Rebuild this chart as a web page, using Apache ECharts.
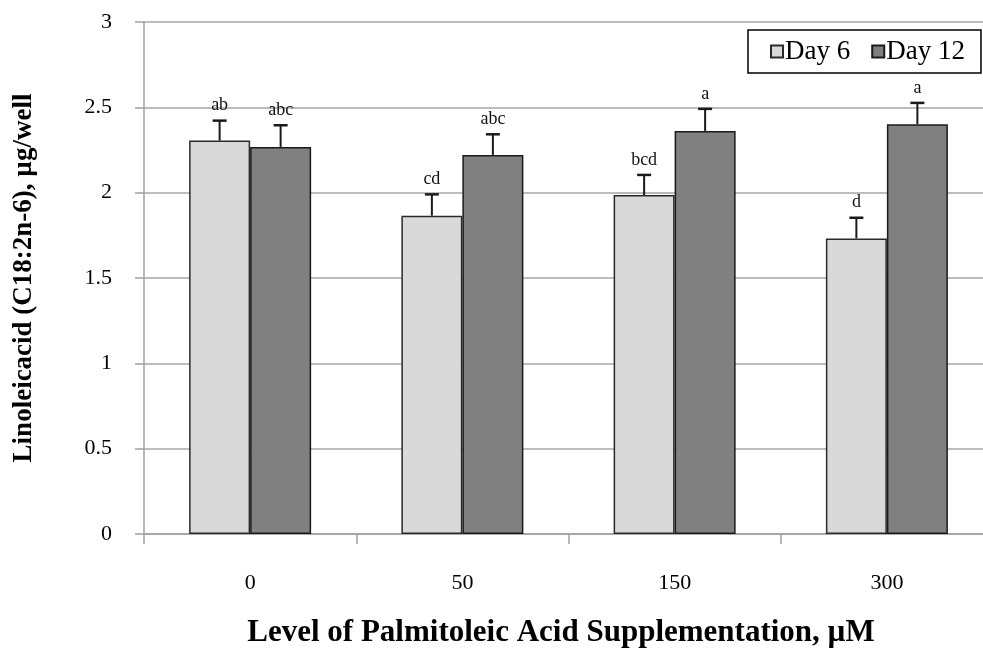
<!DOCTYPE html>
<html>
<head>
<meta charset="utf-8">
<script src="https://cdn.jsdelivr.net/npm/echarts@6/dist/echarts.min.js"></script>
<style>
  html, body { margin: 0; padding: 0; background: #fff; }
  #chart { width: 983px; height: 670px; }
</style>
</head>
<body>
<div id="chart"></div>
<script>
// Palmitoleic acid levels (µM)
const categories = ['0', '50', '150', '300'];
// Linoleic acid, µg/well (means)
const day6 = [2.305, 1.865, 1.986, 1.732];
const day12 = [2.268, 2.221, 2.362, 2.401];
// Standard errors (drawn upward only)
const day6Err = [0.117, 0.125, 0.118, 0.121];
const day12Err = [0.127, 0.121, 0.129, 0.125];
// Significance letters
const day6Letters = ['ab', 'cd', 'bcd', 'd'];
const day12Letters = ['abc', 'abc', 'a', 'a'];
const yTicks = [0, 0.5, 1, 1.5, 2, 2.5, 3];

const SERIF = '"Liberation Serif", "Times New Roman", serif';
const BAR_W = 61;

function errorSeries(name, means, errs, letters, side) {
  return {
    type: 'custom',
    name: name + ' err',
    z: 5,
    silent: true,
    data: means.map((m, i) => [i, m, errs[i]]),
    renderItem: function (params, api) {
      const idx = api.value(0);
      const mean = api.value(1);
      const err = api.value(2);
      const base = api.coord([idx, mean]);
      const top = api.coord([idx, mean + err]);
      const x = base[0] + side * BAR_W / 2;
      const cap = 7;
      return {
        type: 'group',
        children: [
          { type: 'line', shape: { x1: x, y1: base[1], x2: x, y2: top[1] },
            style: { stroke: '#1a1a1a', lineWidth: 2 } },
          { type: 'line', shape: { x1: x - cap, y1: top[1], x2: x + cap, y2: top[1] },
            style: { stroke: '#1a1a1a', lineWidth: 2.5 } },
          { type: 'text', x: x, y: top[1] - 6,
            style: { text: letters[idx], textAlign: 'center', textVerticalAlign: 'bottom',
                     font: '18px ' + SERIF, fill: '#111' } }
        ]
      };
    }
  };
}

const chart = echarts.init(document.getElementById('chart'), null, { renderer: 'canvas' });
chart.setOption({
  animation: false,
  backgroundColor: '#fff',
  grid: {
    left: 144, width: 849, top: 22, bottom: 136,
    containLabel: false, outerBoundsMode: 'none'
  },
  legend: {
    data: ['Day 6', 'Day 12'],
    left: 748, top: 30,
    orient: 'horizontal',
    itemWidth: 12, itemHeight: 12, itemGap: 21,
    padding: [8, 16, 8, 22],
    borderColor: '#000', borderWidth: 1.5,
    backgroundColor: '#fff',
    icon: 'rect',
    textStyle: { fontFamily: SERIF, fontSize: 27, color: '#000', padding: [0, 0, 0, -3] }
  },
  xAxis: {
    type: 'category',
    data: categories,
    axisLine: { lineStyle: { color: '#a0a0a0', width: 1.5 } },
    axisTick: { show: true, length: 10, alignWithLabel: false, lineStyle: { color: '#a0a0a0', width: 1.5 } },
    axisLabel: { fontFamily: SERIF, fontSize: 22, color: '#000', margin: 38 }
  },
  yAxis: {
    type: 'value',
    min: 0, max: 3, interval: 0.5,
    name: 'Linoleicacid (C18:2n-6), µg/well',
    nameLocation: 'middle',
    nameGap: 106,
    nameTextStyle: { fontFamily: SERIF, fontSize: 27, fontWeight: 'bold', color: '#000' },
    axisLine: { show: true, lineStyle: { color: '#a0a0a0', width: 1.5 } },
    axisTick: { show: true, inside: false, length: 9, lineStyle: { color: '#a0a0a0', width: 1.5 } },
    axisLabel: {
      fontFamily: SERIF, fontSize: 22, color: '#000', margin: 32,
      formatter: v => (yTicks.indexOf(v) >= 0 ? String(v) : '')
    },
    splitLine: { show: true, lineStyle: { color: '#a6a6a6', width: 1.5 } }
  },
  graphic: [{
    type: 'text', x: 561, y: 617,
    style: {
      text: 'Level of Palmitoleic Acid Supplementation, µM',
      font: 'bold 31px ' + SERIF, fill: '#000', textAlign: 'center'
    }
  }],
  series: [
    {
      name: 'Day 6', type: 'bar', data: day6, barWidth: BAR_W, barGap: '0%',
      itemStyle: { color: '#d9d9d9', borderColor: '#2a2a2a', borderWidth: 1.5 }
    },
    {
      name: 'Day 12', type: 'bar', data: day12, barWidth: BAR_W, barGap: '0%',
      itemStyle: { color: '#808080', borderColor: '#1a1a1a', borderWidth: 1.5 }
    },
    errorSeries('Day 6', day6, day6Err, day6Letters, -1),
    errorSeries('Day 12', day12, day12Err, day12Letters, 1)
  ]
});
</script>
</body>
</html>
